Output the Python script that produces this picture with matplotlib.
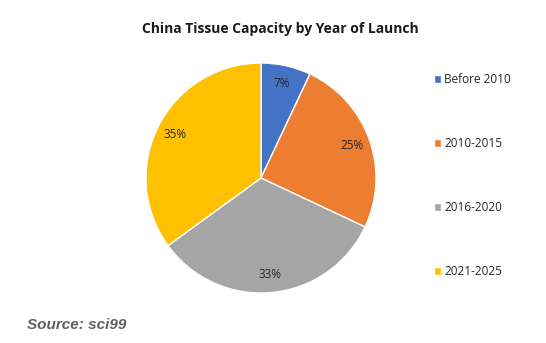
import matplotlib.pyplot as plt

labels = ["Before 2010", "2010-2015", "2016-2020", "2021-2025"]
shares = [7, 25, 33, 35]
colors = ["#4472C4", "#ED7D31", "#A5A5A5", "#FFC000"]

plt.rcParams["font.family"] = ["Open Sans", "DejaVu Sans"]

fig = plt.figure(figsize=(5.46, 3.43), dpi=100)
ax = fig.add_axes([(261 - 115) / 546, (165 - 115) / 343, 230 / 546, 230 / 343])

wedges, texts, autotexts = ax.pie(
    shares, colors=colors, startangle=90, counterclock=False,
    autopct="%d%%", pctdistance=0.84,
    wedgeprops=dict(edgecolor="white", linewidth=1),
    textprops=dict(fontsize=8.5, color="#262626"),
)
ax.set_xlim(-1, 1)
ax.set_ylim(-1, 1)
ax.set_aspect("equal")

fig.text(0.513, 0.915, "China Tissue Capacity by Year of Launch",
         ha="center", va="center", fontsize=10, fontweight="bold", color="#1a1a1a")

fig.legend(wedges, labels, loc="upper left", bbox_to_anchor=(0.775, 0.818),
           frameon=False, fontsize=8.5, handlelength=0.6, handleheight=0.6,
           handletextpad=0.3, labelspacing=4.32, labelcolor="#262626")

fig.text(0.05, 0.052, "Source: sci99", fontsize=11, fontweight="bold",
         fontstyle="italic", color="#5f5f5f", ha="left", va="center",
         family=["Liberation Sans", "DejaVu Sans"])

fig.savefig("out.png", dpi=100)
